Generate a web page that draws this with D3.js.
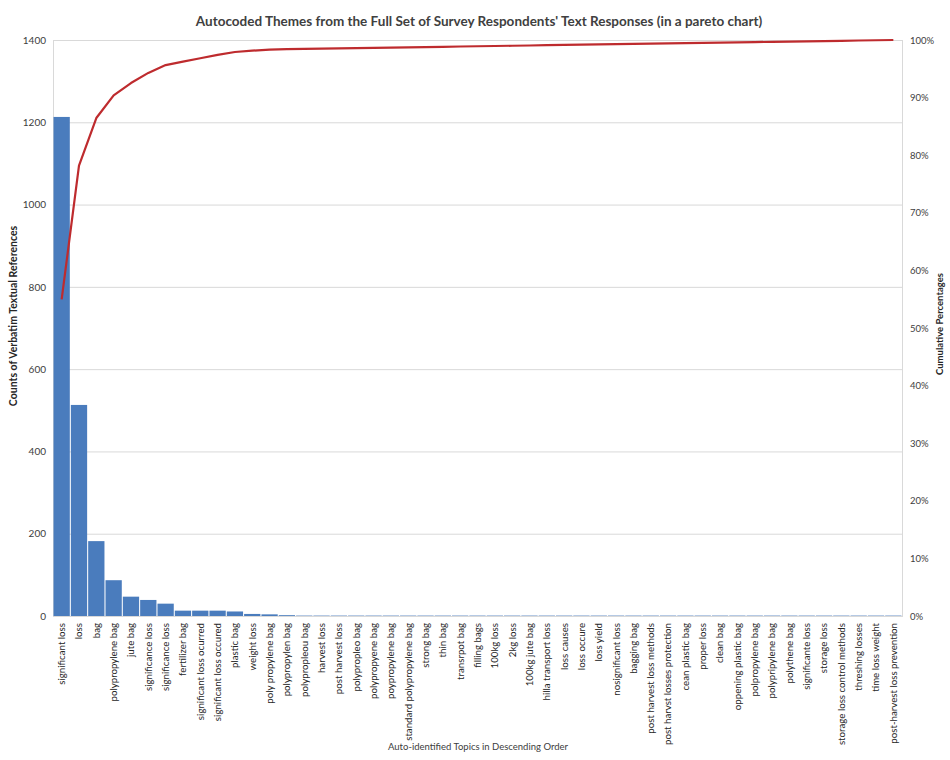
<!DOCTYPE html>
<html>
<head>
<meta charset="utf-8">
<script src="https://cdnjs.cloudflare.com/ajax/libs/d3/7.8.5/d3.min.js"></script>
<style>
  body { margin: 0; background: #fff; }
  svg text { font-family: Lato, "Liberation Sans", Arial, sans-serif; }
</style>
</head>
<body>
<div class="pareto_chart"></div>
<script>
// topics, in descending order of count
var topics = [
    "significant loss", "loss", "bag", "polypropylene bag", "jute bag",
    "significance loss", "significance loss", "fertilizer bag", "significant loss ocurred", "significant loss occured",
    "plastic bag", "weight loss", "poly propylene bag", "polypropylen bag", "polypropleou bag",
    "harvest loss", "post harvest loss", "polypropleo bag", "polypropyene bag", "poypropylene bag",
    "standard polypropylene bag", "strong bag", "thin bag", "transrpot bag", "filling bags",
    "100kg loss", "2kg loss", "100kg jute bag", "hilla transport loss", "loss causes",
    "loss occure", "loss yield", "nosignificant loss", "bagging bag", "post harvest loss methods",
    "post harvst losses protection", "cean plastic bag", "proper loss", "clean bag", "oppening plastic bag",
    "polpropylene bag", "polypripylene bag", "polythene bag", "significante loss", "storage loss",
    "storage loss control methods", "threshing losses", "time loss weight", "post-harvest loss prevention"
];

// counts of verbatim references
var counts = [
    1213, 513, 182, 87, 47,
    39, 30, 13, 13, 13,
    11, 5, 4, 2, 1,
    1, 1, 1, 1, 1,
    1, 1, 1, 1, 1,
    1, 1, 1, 1, 1,
    1, 1, 1, 1, 1,
    1, 1, 1, 1, 1,
    1, 1, 1, 1, 1,
    1, 1, 1, 1
];

var countTicks = [0, 200, 400, 600, 800, 1000, 1200, 1400];
var pctTicks = [0, 0.1, 0.2, 0.3, 0.4, 0.5, 0.6, 0.7, 0.8, 0.9, 1.0];

var titleText = "Autocoded Themes from the Full Set of Survey Respondents' Text Responses (in a pareto chart)";
var yTitle = "Counts of Verbatim Textual References";
var y2Title = "Cumulative Percentages";
var xTitle = "Auto-identified  Topics in Descending Order";

// cumulative share from the counts
var total = d3.sum(counts);
var running = 0;
var cumulative = counts.map(function (c) { running += c; return running / total; });

var div_width = 950;
var div_height = 760;
var margin = { left: 53, right: 48, top: 40, bottom: 144 };
var w = div_width - margin.left - margin.right;
var h = div_height - margin.top - margin.bottom;

var svg = d3.select(".pareto_chart").append("svg")
    .attr("width", div_width)
    .attr("height", div_height);

var g = svg.append("g")
    .attr("transform", "translate(" + margin.left + "," + margin.top + ")");

var x = d3.scaleBand().domain(d3.range(topics.length)).range([0, w]).paddingInner(0.06).paddingOuter(0.03);
var y = d3.scaleLinear().domain([0, 1400]).range([h, 0]);
var y2 = d3.scaleLinear().domain([0, 1]).range([h, 0]);

// gridlines
g.append("g").selectAll("line")
    .data(countTicks)
    .enter().append("line")
    .attr("x1", 0).attr("x2", w)
    .attr("y1", function (d) { return y(d) + 0.5; })
    .attr("y2", function (d) { return y(d) + 0.5; })
    .attr("stroke", "#d9d9d9")
    .attr("stroke-width", 1);

g.append("rect")
    .attr("x", 0.5).attr("y", 0.5)
    .attr("width", w).attr("height", h)
    .attr("fill", "none")
    .attr("stroke", "#d9d9d9");

// bars
g.append("g").selectAll("rect")
    .data(counts)
    .enter().append("rect")
    .attr("x", function (d, i) { return x(i); })
    .attr("y", function (d) { return y(d); })
    .attr("width", x.bandwidth())
    .attr("height", function (d) { return h - y(d); })
    .attr("fill", "#4a7cbd");

// cumulative line
var line = d3.line()
    .x(function (d, i) { return x(i) + x.bandwidth() / 2; })
    .y(function (d) { return y2(d); });

g.append("path")
    .datum(cumulative)
    .attr("d", line)
    .attr("fill", "none")
    .attr("stroke", "#be2b2e")
    .attr("stroke-width", 2.2)
    .attr("stroke-linejoin", "round");

// left axis
var yAxis = d3.axisLeft(y).tickValues(countTicks).tickFormat(d3.format("d")).tickSize(0).tickPadding(7);
var ya = g.append("g").call(yAxis);
ya.select(".domain").remove();
ya.selectAll("text").attr("fill", "#404040").style("font-family", "Lato, sans-serif").style("font-size", "10px");

// right axis
var y2Axis = d3.axisRight(y2).tickValues(pctTicks).tickFormat(d3.format(".0%")).tickSize(0).tickPadding(8);
var y2a = g.append("g").attr("transform", "translate(" + w + ",0)").call(y2Axis);
y2a.select(".domain").remove();
y2a.selectAll("text").attr("fill", "#404040").style("font-family", "Lato, sans-serif").style("font-size", "9.5px");

// x axis, rotated labels
var xAxis = d3.axisBottom(x).tickFormat(function (i) { return topics[i]; }).tickSize(0).tickPadding(0);
var xa = g.append("g").attr("transform", "translate(0," + h + ")").call(xAxis);
xa.select(".domain").remove();
xa.selectAll("text")
    .attr("transform", "rotate(-90)")
    .attr("x", -7)
    .attr("y", 0)
    .attr("dy", "0.35em")
    .attr("text-anchor", "end")
    .attr("fill", "#262626")
    .style("font-family", "Lato, sans-serif")
    .style("font-size", "9.7px");

// titles
svg.append("text")
    .attr("x", 479).attr("y", 26)
    .attr("text-anchor", "middle")
    .attr("fill", "#404040")
    .style("font-weight", "bold")
    .style("font-size", "13.5px")
    .text(titleText);

svg.append("text")
    .attr("transform", "translate(17," + (margin.top + h / 2 - 12) + ") rotate(-90)")
    .attr("text-anchor", "middle")
    .attr("fill", "#262626")
    .style("font-weight", "bold")
    .style("font-size", "10.5px")
    .text(yTitle);

svg.append("text")
    .attr("transform", "translate(943," + (margin.top + h / 2 - 4) + ") rotate(-90)")
    .attr("text-anchor", "middle")
    .attr("fill", "#262626")
    .style("font-weight", "bold")
    .style("font-size", "9.5px")
    .text(y2Title);

svg.append("text")
    .attr("x", 478).attr("y", 750)
    .attr("text-anchor", "middle")
    .attr("fill", "#404040")
    .style("font-size", "9.5px")
    .text(xTitle);
</script>
</body>
</html>
